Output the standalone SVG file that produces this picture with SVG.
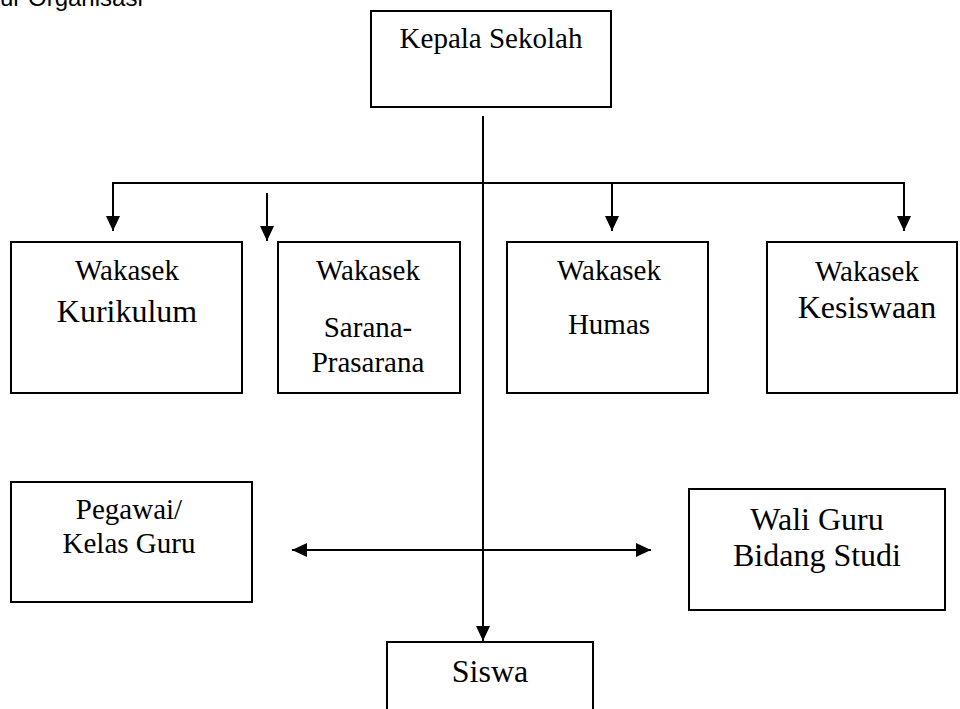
<svg xmlns="http://www.w3.org/2000/svg" width="960" height="709" viewBox="0 0 960 709">
<style>
.box{fill:#fff;stroke:#000;stroke-width:2}
.t{font-family:"Liberation Serif","Times New Roman",serif;fill:#000;text-anchor:middle}
.s29{font-size:29px}
.s32{font-size:32px}
.c{fill:none;stroke:#000;stroke-width:2}
.title{font-family:"Liberation Sans",Arial,sans-serif;font-size:24px;fill:#000}
</style>
<defs>
<marker id="ah" viewBox="0 0 15 14" refX="15" refY="7" markerWidth="15" markerHeight="14" markerUnits="userSpaceOnUse" orient="auto-start-reverse">
<path d="M0,0 L15,7 L0,14 Z" fill="#000"/>
</marker>
</defs>
<rect width="960" height="709" fill="#fff"/>
<text class="title" x="0" y="6">ur Organisasi</text>

<g id="connectors">
<line class="c" x1="483" y1="116" x2="483" y2="641" marker-end="url(#ah)"/>
<polyline class="c" points="113,231 113,183 904,183 904,231" marker-start="url(#ah)" marker-end="url(#ah)"/>
<line class="c" x1="612" y1="183" x2="612" y2="231" marker-end="url(#ah)"/>
<line class="c" x1="267" y1="193" x2="267" y2="241" marker-end="url(#ah)"/>
<line class="c" x1="292" y1="550" x2="651" y2="550" marker-start="url(#ah)" marker-end="url(#ah)"/>
</g>

<g id="kepala">
<rect class="box" x="371" y="11" width="240" height="96"/>
<text class="t s29" x="491" y="48">Kepala Sekolah</text>
</g>

<g id="kurikulum">
<rect class="box" x="11" y="242" width="231" height="151"/>
<text class="t s29" x="127" y="280">Wakasek</text>
<text class="t s32" x="127" y="322">Kurikulum</text>
</g>

<g id="sarana">
<rect class="box" x="278" y="242" width="182" height="151"/>
<text class="t s29" x="368" y="280">Wakasek</text>
<text class="t s29" x="368" y="337">Sarana-</text>
<text class="t s29" x="368" y="372">Prasarana</text>
</g>

<g id="humas">
<rect class="box" x="507" y="242" width="201" height="151"/>
<text class="t s29" x="609" y="280">Wakasek</text>
<text class="t s29" x="609" y="334">Humas</text>
</g>

<g id="kesiswaan">
<rect class="box" x="767" y="242" width="190" height="151"/>
<text class="t s29" x="867" y="281">Wakasek</text>
<text class="t s32" x="867" y="318">Kesiswaan</text>
</g>

<g id="pegawai">
<rect class="box" x="11" y="482" width="241" height="120"/>
<text class="t s29" x="129" y="519">Pegawai/</text>
<text class="t s29" x="129" y="553">Kelas Guru</text>
</g>

<g id="waliguru">
<rect class="box" x="689" y="489" width="256" height="121"/>
<text class="t s32" x="817" y="530">Wali Guru</text>
<text class="t s32" x="817" y="566">Bidang Studi</text>
</g>

<g id="siswa">
<rect class="box" x="387" y="642" width="206" height="80"/>
<text class="t s32" x="490" y="682">Siswa</text>
</g>
</svg>
